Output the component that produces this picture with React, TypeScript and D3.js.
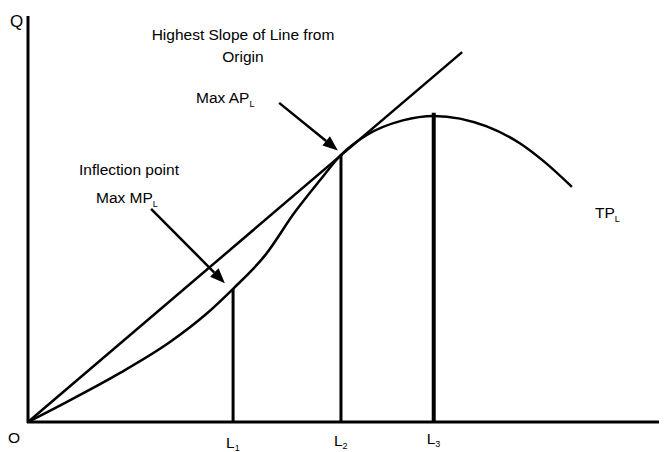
import React from 'react';
import * as d3 from 'd3';

// Total product curve (labour, output)
const tpLabour = [0, 6.7, 14.6, 22.5, 28.1, 32.5, 37.6, 42.3, 46.3, 49.6, 53.7, 59.4, 64.3, 72.7, 78.0, 81.9, 86.2];
const tpOutput = [0, 5.4, 12.1, 19.7, 26.4, 32.8, 41.1, 51.7, 59.6, 65.8, 70.7, 74.3, 75.4, 72.8, 68.6, 64.0, 57.9];

// Markers on the labour axis
const markerNames = ['1', '2', '3'];
const markerLabour = [32.5, 49.6, 64.3];
const markerTop = [32.8, 65.8, 76.2];
const markerWidth = [3, 3, 4];

// Ray from origin (tangent at L2)
const rayEnd = [68.8, 91.1];

// Annotation arrows: [fromX, fromY, toX, toY]
const arrows = [
  [39.8, 78.6, 49.1, 66.9],
  [19.5, 52.5, 31.2, 34.2],
];

const W = 664;
const H = 452;

export default function App() {
  const x = d3.scaleLinear().domain([0, 100]).range([28, 659]);
  const y = d3.scaleLinear().domain([0, 100]).range([422, 16]);

  const pts = tpLabour.map((l, i) => [l, tpOutput[i]] as [number, number]);
  const curve = d3.line<[number, number]>()
    .x(d => x(d[0]))
    .y(d => y(d[1]))
    .curve(d3.curveMonotoneX)(pts);

  const font = "'Liberation Sans', Arial, sans-serif";
  const fs = 15.5;

  const arrowHead = (a: number[]) => {
    const x1 = x(a[0]), y1 = y(a[1]), x2 = x(a[2]), y2 = y(a[3]);
    const ang = Math.atan2(y2 - y1, x2 - x1);
    const len = 15, half = 6;
    const bx = x2 - len * Math.cos(ang), by = y2 - len * Math.sin(ang);
    const px = -Math.sin(ang) * half, py = Math.cos(ang) * half;
    return {
      line: [x1, y1, bx, by],
      head: `M${x2},${y2}L${bx + px},${by + py}L${bx - px},${by - py}Z`,
    };
  };

  const labelY = [448, 446, 444];

  return (
    <svg width={W} height={H} style={{ position: 'absolute', left: 0, top: 0, background: '#fff' }}
      fontFamily={font} fill="#000">
      {/* axes */}
      <line x1={x(0)} y1={y(0) + 1} x2={x(0)} y2={16} stroke="#000" strokeWidth={3} />
      <line x1={x(0) - 1} y1={y(0)} x2={659} y2={y(0)} stroke="#000" strokeWidth={3} />

      {/* ray from origin */}
      <line x1={x(0)} y1={y(0)} x2={x(rayEnd[0])} y2={y(rayEnd[1])} stroke="#000" strokeWidth={2.5} />

      {/* TP curve */}
      <path d={curve || ''} fill="none" stroke="#000" strokeWidth={2.5} />

      {/* markers */}
      {markerLabour.map((l, i) => (
        <g key={i}>
          <line x1={x(l)} y1={y(0)} x2={x(l)} y2={y(markerTop[i])} stroke="#000" strokeWidth={markerWidth[i]} />
          <text x={x(l) - 7} y={labelY[i]} fontSize={fs}>
            L<tspan fontSize={9} dy={3}>{markerNames[i]}</tspan>
          </text>
        </g>
      ))}

      {/* arrows */}
      {arrows.map((a, i) => {
        const ah = arrowHead(a);
        return (
          <g key={i}>
            <line x1={ah.line[0]} y1={ah.line[1]} x2={ah.line[2]} y2={ah.line[3]} stroke="#000" strokeWidth={2.5} />
            <path d={ah.head} fill="#000" />
          </g>
        );
      })}

      {/* labels */}
      <text x={10} y={27} fontSize={17}>Q</text>
      <text x={8} y={443} fontSize={fs}>O</text>
      <text x={243} y={40} fontSize={fs} textAnchor="middle">Highest Slope of Line from</text>
      <text x={243} y={62} fontSize={fs} textAnchor="middle">Origin</text>
      <text x={196} y={103} fontSize={fs}>Max AP<tspan fontSize={9} dy={4}>L</tspan></text>
      <text x={79} y={175} fontSize={fs}>Inflection point</text>
      <text x={96} y={203} fontSize={fs}>Max MP<tspan fontSize={9} dy={4}>L</tspan></text>
      <text x={595} y={218} fontSize={fs}>TP<tspan fontSize={9} dy={4}>L</tspan></text>
    </svg>
  );
}
